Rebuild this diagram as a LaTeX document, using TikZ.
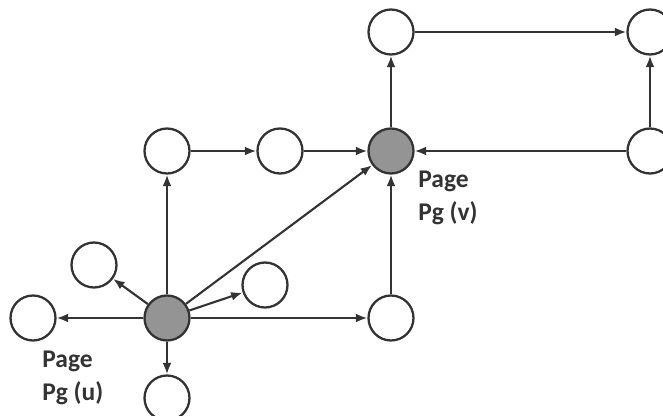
\documentclass[tikz,border=0pt]{standalone}
\usepackage{fontspec}
\setmainfont{Carlito}
\usetikzlibrary{arrows.meta}
\begin{document}
\begin{tikzpicture}[x=0.02cm, y=-0.02cm, font=\bfseries,
  page/.style={circle, draw=black!80, line width=1.3pt, fill=white, minimum size=0.9cm, inner sep=0pt},
  hit/.style={page, fill=black!42},
  link/.style={draw=black!80, line width=1.2pt, -{Latex[length=6.5pt,width=5pt]}},
  tag/.style={anchor=north west, inner sep=0pt, align=left, text=black!80,
    font=\fontsize{14.5}{18.7}\selectfont\bfseries}]
\useasboundingbox (0,0) rectangle (663,416);
% page u and the pages round it
\node[hit] (u) at (167,318) {};
\node[page] (ul) at (33,318) {};
\node[page] (uul) at (94,265) {};
\node[page] (us) at (265,285) {};
\node[page] (ud) at (167,398) {};
\node[page] (uu) at (167,151) {};
\node[page] (um) at (280,151) {};
\node[page] (ur) at (391,318) {};
% page v and the pages round it
\node[hit] (v) at (391,151) {};
\node[page] (vt) at (391,32) {};
\node[page] (tr) at (650,32) {};
\node[page] (rr) at (650,151) {};
\node[tag] (lu) at (42,351) {Page\\Pg (u)};
\node[tag] (lv) at (418,171) {Page\\Pg (v)};
% links
\draw[link] (u) -- (ul);
\draw[link] (u) -- (uul);
\draw[link] (u) -- (us);
\draw[link] (u) -- (ud);
\draw[link] (u) -- (uu);
\draw[link] (u) -- (v);
\draw[link] (u) -- (ur);
\draw[link] (ur) -- (v);
\draw[link] (uu) -- (um);
\draw[link] (um) -- (v);
\draw[link] (rr) -- (v);
\draw[link] (v) -- (vt);
\draw[link] (vt) -- (tr);
\draw[link] (rr) -- (tr);
\end{tikzpicture}
\end{document}
